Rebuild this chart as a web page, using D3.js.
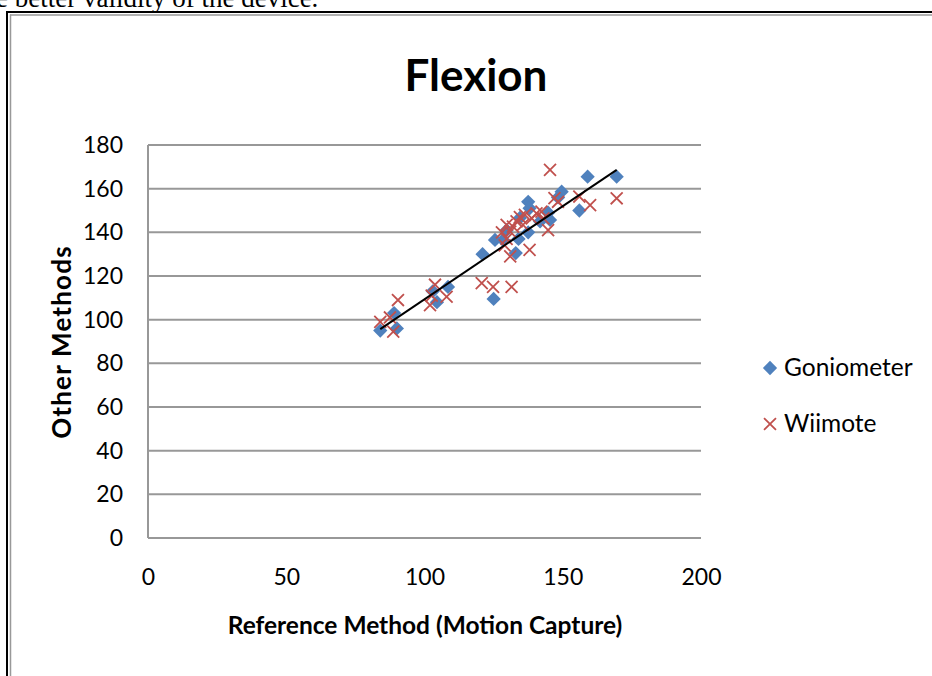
<!DOCTYPE html>
<html><head><meta charset="utf-8">
<script src="https://cdn.jsdelivr.net/npm/d3@7"></script>
<style>body{margin:0;background:#fff;overflow:hidden}svg{display:block}</style>
</head><body>
<script>
const titleText = "Flexion";
const xTitle = "Reference Method (Motion Capture)";
const yTitle = "Other Methods";
const xTicks = [0, 50, 100, 150, 200];
const yTicks = [0, 20, 40, 60, 80, 100, 120, 140, 160, 180];
const seriesNames = ["Goniometer", "Wiimote"];
const gonioX = [84, 89, 90, 103, 104.5, 108.5, 125, 121, 125.5, 129.7, 133, 137.5, 138, 137.5, 141.8, 145.4, 144.7, 149.6, 148.3, 156, 159, 169.5, 134, 134.5, 128.4];
const gonioY = [95, 103, 96, 113, 108, 115, 109.5, 130, 136.5, 141, 130.5, 154, 151, 140, 145, 145.7, 149, 158.6, 156, 150, 165.5, 165.5, 137, 146.6, 136.5];
const wiiX = [84, 87.5, 88.7, 90.4, 102, 103.8, 108, 102.6, 120.7, 124.8, 131.5, 145.4, 169.5, 159.9, 156, 138, 131, 144.7, 147, 148.3, 128, 129.7, 132, 133.3, 134.5, 136.3, 138.8, 140.5, 142.3, 143, 131, 135.6, 129, 129.7];
const wiiY = [99, 101, 94.5, 109, 106.7, 116, 110.5, 111, 116.7, 115, 115, 168.6, 155.6, 152.5, 156.4, 132, 129, 141, 155.7, 154, 140, 137, 142.6, 145, 147, 148, 146.4, 148.7, 149.5, 146.4, 140.3, 143.4, 134, 143.4];
const trendSlope = 0.853, trendIntercept = 24.05, trendRange = [84, 169.5];
const clippedLine = "e better validity of the device.";

const W = 932, H = 676;
const svg = d3.select("body").append("svg").attr("width", W).attr("height", H);
const font = "Lato, 'Open Sans', sans-serif";

// clipped text from document above
svg.append("text").attr("x", -4).attr("y", 7).attr("font-family", "'Liberation Serif', serif")
  .attr("font-size", 27).attr("fill", "#000").text(clippedLine);

// frame
svg.append("line").attr("x1", 7).attr("x2", 7).attr("y1", 11).attr("y2", H).attr("stroke", "#000").attr("stroke-width", 2);
svg.append("line").attr("x1", 10.5).attr("x2", 10.5).attr("y1", 14.5).attr("y2", H).attr("stroke", "#999").attr("stroke-width", 1.5);
svg.append("line").attr("x1", 6).attr("x2", W).attr("y1", 12).attr("y2", 12).attr("stroke", "#000").attr("stroke-width", 2);
svg.append("line").attr("x1", 10).attr("x2", W).attr("y1", 15).attr("y2", 15).attr("stroke", "#999").attr("stroke-width", 1.5);

const x = d3.scaleLinear().domain([0, 200]).range([148, 701]);
const y = d3.scaleLinear().domain([0, 180]).range([538, 145]);

// gridlines
svg.append("g").selectAll("line").data(yTicks).join("line")
  .attr("x1", x(0)).attr("x2", x(200)).attr("y1", d => y(d)).attr("y2", d => y(d))
  .attr("stroke", "#989898").attr("stroke-width", 2);
svg.append("line").attr("x1", x(0)).attr("x2", x(0)).attr("y1", y(180)).attr("y2", y(0))
  .attr("stroke", "#989898").attr("stroke-width", 2);

const yAxis = d3.axisLeft(y).tickValues(yTicks).tickSize(0).tickPadding(25);
const gy = svg.append("g").attr("transform", `translate(${x(0)},0)`).call(yAxis);
gy.select(".domain").remove();
gy.selectAll("text").attr("font-family", font).attr("font-size", 23).attr("fill", "#000");

const xAxis = d3.axisBottom(x).tickValues(xTicks).tickSize(0).tickPadding(31);
const gx = svg.append("g").attr("transform", `translate(0,${y(0)})`).call(xAxis);
gx.select(".domain").remove();
gx.selectAll("text").attr("font-family", font).attr("font-size", 23).attr("fill", "#000");

// title
svg.append("text").attr("x", 476).attr("y", 91).attr("text-anchor", "middle")
  .attr("font-family", font).attr("font-weight", "bold").attr("font-size", 44).text(titleText);
svg.append("text").attr("x", 425).attr("y", 634).attr("text-anchor", "middle")
  .attr("font-family", font).attr("font-weight", "bold").attr("font-size", 24.5).text(xTitle);
svg.append("text").attr("transform", "translate(71,342) rotate(-90)").attr("text-anchor", "middle")
  .attr("font-family", font).attr("font-weight", "bold").attr("font-size", 26)
  .attr("letter-spacing", 1.2).text(yTitle);

const blue = "#4F81BD", red = "#C0504D";
const diamond = d3.symbol().type(d3.symbolDiamond2).size(130);
const cross = d3.symbol().type(d3.symbolX).size(95);

const gonio = gonioX.map((v, i) => [v, gonioY[i]]);
const wii = wiiX.map((v, i) => [v, wiiY[i]]);

svg.append("g").selectAll("path").data(gonio).join("path")
  .attr("transform", d => `translate(${x(d[0])},${y(d[1])})`)
  .attr("d", diamond).attr("fill", blue);
svg.append("g").selectAll("path").data(wii).join("path")
  .attr("transform", d => `translate(${x(d[0])},${y(d[1])})`)
  .attr("d", cross).attr("fill", "none").attr("stroke", red).attr("stroke-width", 1.8);

// trendline
svg.append("line")
  .attr("x1", x(trendRange[0])).attr("y1", y(trendSlope * trendRange[0] + trendIntercept))
  .attr("x2", x(trendRange[1])).attr("y2", y(trendSlope * trendRange[1] + trendIntercept))
  .attr("stroke", "#000").attr("stroke-width", 2);

// legend
const leg = svg.append("g");
leg.append("path").attr("transform", "translate(770,368)").attr("d", diamond).attr("fill", blue);
leg.append("path").attr("transform", "translate(770,424)").attr("d", cross).attr("fill", "none").attr("stroke", red).attr("stroke-width", 1.8);
leg.append("text").attr("x", 784).attr("y", 376).attr("font-family", font).attr("font-size", 24.5).text(seriesNames[0]);
leg.append("text").attr("x", 784).attr("y", 432).attr("font-family", font).attr("font-size", 24.5).text(seriesNames[1]);
</script>
</body></html>
